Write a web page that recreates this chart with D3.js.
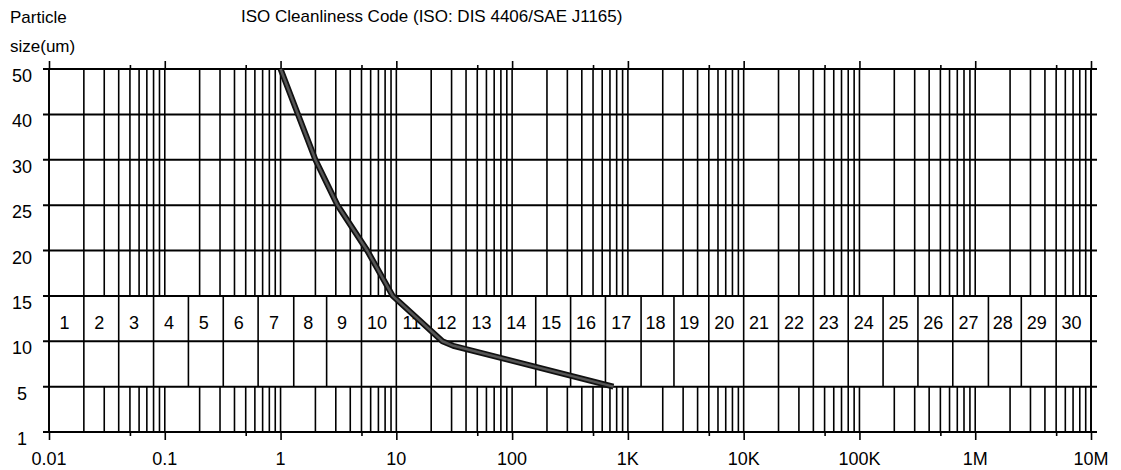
<!DOCTYPE html>
<html>
<head>
<meta charset="utf-8">
<script src="https://cdn.jsdelivr.net/npm/d3@7"></script>
<style>
  body { margin: 0; background: #fff; }
  svg { display: block; font-family: Arial, "Liberation Sans", sans-serif; }
</style>
</head>
<body>
<div id="chart"></div>
<script>
// row labels on the y axis (particle size, um) - evenly spaced rows
const sizeRows = [1, 5, 10, 15, 20, 25, 30, 40, 50];
// x axis decade labels
const xLabels = ['0.01', '0.1', '1', '10', '100', '1K', '10K', '100K', '1M', '10M'];
const xDecades = [0.01, 0.1, 1, 10, 100, 1e3, 1e4, 1e5, 1e6, 1e7];
// ISO 4406 range boundaries (particles per ml), codes 1..30
const codeBounds = [0.01, 0.02, 0.04, 0.08, 0.16, 0.32, 0.64, 1.3, 2.5, 5, 10, 20, 40, 80, 160,
  320, 640, 1300, 2500, 5000, 10000, 20000, 40000, 80000, 160000, 320000, 640000,
  1300000, 2500000, 5000000, 10000000];
const codes = d3.range(1, 31);
// the curve: particle count vs size
const curveCount = [1, 2, 3.1, 5.6, 9.3, 25, 31, 750];
const curveSize = [50, 30, 25, 20, 15, 10, 9.5, 5];

(function () {
  const W = 1121, H = 470;
  const mLeft = 49, mRight = 1091, mTop = 69, mBottom = 432;

  const svg = d3.select('#chart').append('svg')
    .attr('width', W).attr('height', H);

  const x = d3.scaleLog().domain([0.01, 1e7]).range([mLeft, mRight]);
  const step = (mBottom - mTop) / (sizeRows.length - 1);
  const y = d3.scaleLinear()
    .domain(sizeRows)
    .range(sizeRows.map((d, i) => mBottom - i * step));

  const allTicks = x.ticks();
  const fives = allTicks.filter(d => Math.round(d / Math.pow(10, Math.floor(Math.log10(d) + 1e-9))) === 5);

  const grid = svg.append('g').attr('stroke', '#000').attr('fill', 'none');

  // fine log grid above 15 and below 5
  grid.selectAll('line.up').data(allTicks).enter().append('line')
    .attr('class', 'up')
    .attr('x1', d => x(d)).attr('x2', d => x(d))
    .attr('y1', y(50)).attr('y2', y(15))
    .attr('stroke-width', 1.6);
  grid.selectAll('line.low').data(allTicks).enter().append('line')
    .attr('class', 'low')
    .attr('x1', d => x(d)).attr('x2', d => x(d))
    .attr('y1', y(5)).attr('y2', y(1))
    .attr('stroke-width', 1.6);

  // code boxes between 15 and 5
  grid.selectAll('line.code').data(codeBounds).enter().append('line')
    .attr('class', 'code')
    .attr('x1', d => x(d)).attr('x2', d => x(d))
    .attr('y1', y(15)).attr('y2', y(5))
    .attr('stroke-width', 1.6);

  // horizontal rows, with little ticks past both edges
  grid.selectAll('line.row').data(sizeRows).enter().append('line')
    .attr('class', 'row')
    .attr('x1', mLeft - 6).attr('x2', mRight + 6)
    .attr('y1', d => y(d)).attr('y2', d => y(d))
    .attr('stroke-width', 2);

  // left / right border
  grid.selectAll('line.edge').data([0.01, 1e7]).enter().append('line')
    .attr('class', 'edge')
    .attr('x1', d => x(d)).attr('x2', d => x(d))
    .attr('y1', y(50)).attr('y2', y(1))
    .attr('stroke-width', 1.8);

  // axis ticks, top and bottom
  svg.append('g').attr('transform', `translate(0,${mBottom})`)
    .call(d3.axisBottom(x).tickValues(xDecades).tickSize(8).tickFormat(''));
  svg.append('g').attr('transform', `translate(0,${mBottom})`)
    .call(d3.axisBottom(x).tickValues(fives).tickSize(4).tickFormat(''));
  svg.append('g').attr('transform', `translate(0,${mTop})`)
    .call(d3.axisTop(x).tickValues(xDecades).tickSize(8).tickFormat(''));
  svg.append('g').attr('transform', `translate(0,${mTop})`)
    .call(d3.axisTop(x).tickValues(fives).tickSize(4).tickFormat(''));
  svg.selectAll('.domain').remove();
  svg.selectAll('.tick line').attr('stroke', '#000').attr('stroke-width', 1.6);

  // x labels
  svg.selectAll('text.xl').data(xDecades).enter().append('text')
    .attr('class', 'xl')
    .attr('x', d => x(d)).attr('y', 465)
    .attr('text-anchor', 'middle')
    .style('font-size', '18px')
    .text((d, i) => xLabels[i]);

  // y labels sit just under their line
  svg.selectAll('text.yl').data(sizeRows).enter().append('text')
    .attr('class', 'yl')
    .attr('x', 22).attr('y', d => y(d) + 13)
    .attr('text-anchor', 'middle')
    .style('font-size', '18px')
    .text(d => d);

  // code numbers
  svg.selectAll('text.code').data(codes).enter().append('text')
    .attr('class', 'code')
    .attr('x', d => (x(codeBounds[d - 1]) + x(codeBounds[d])) / 2 - 2)
    .attr('y', (y(15) + y(10)) / 2 + 10)
    .attr('text-anchor', 'middle')
    .style('font-size', '18px')
    .text(d => d);

  // curve
  const pts = curveCount.map((c, i) => [x(c), y(curveSize[i])]);
  const line = d3.line();
  svg.append('path').attr('d', line(pts))
    .attr('fill', 'none').attr('stroke', '#111').attr('stroke-width', 6)
    .attr('stroke-linejoin', 'round');
  svg.append('path').attr('d', line(pts))
    .attr('fill', 'none').attr('stroke', '#555').attr('stroke-width', 2.5)
    .attr('stroke-linejoin', 'round');

  // titles
  svg.append('text').attr('x', 10).attr('y', 23).style('font-size', '17px').text('Particle');
  svg.append('text').attr('x', 10).attr('y', 52).style('font-size', '17px').text('size(um)');
  svg.append('text').attr('x', 241).attr('y', 22).style('font-size', '17px')
    .text('ISO Cleanliness Code (ISO: DIS 4406/SAE J1165)');
})();
</script>
</body>
</html>
